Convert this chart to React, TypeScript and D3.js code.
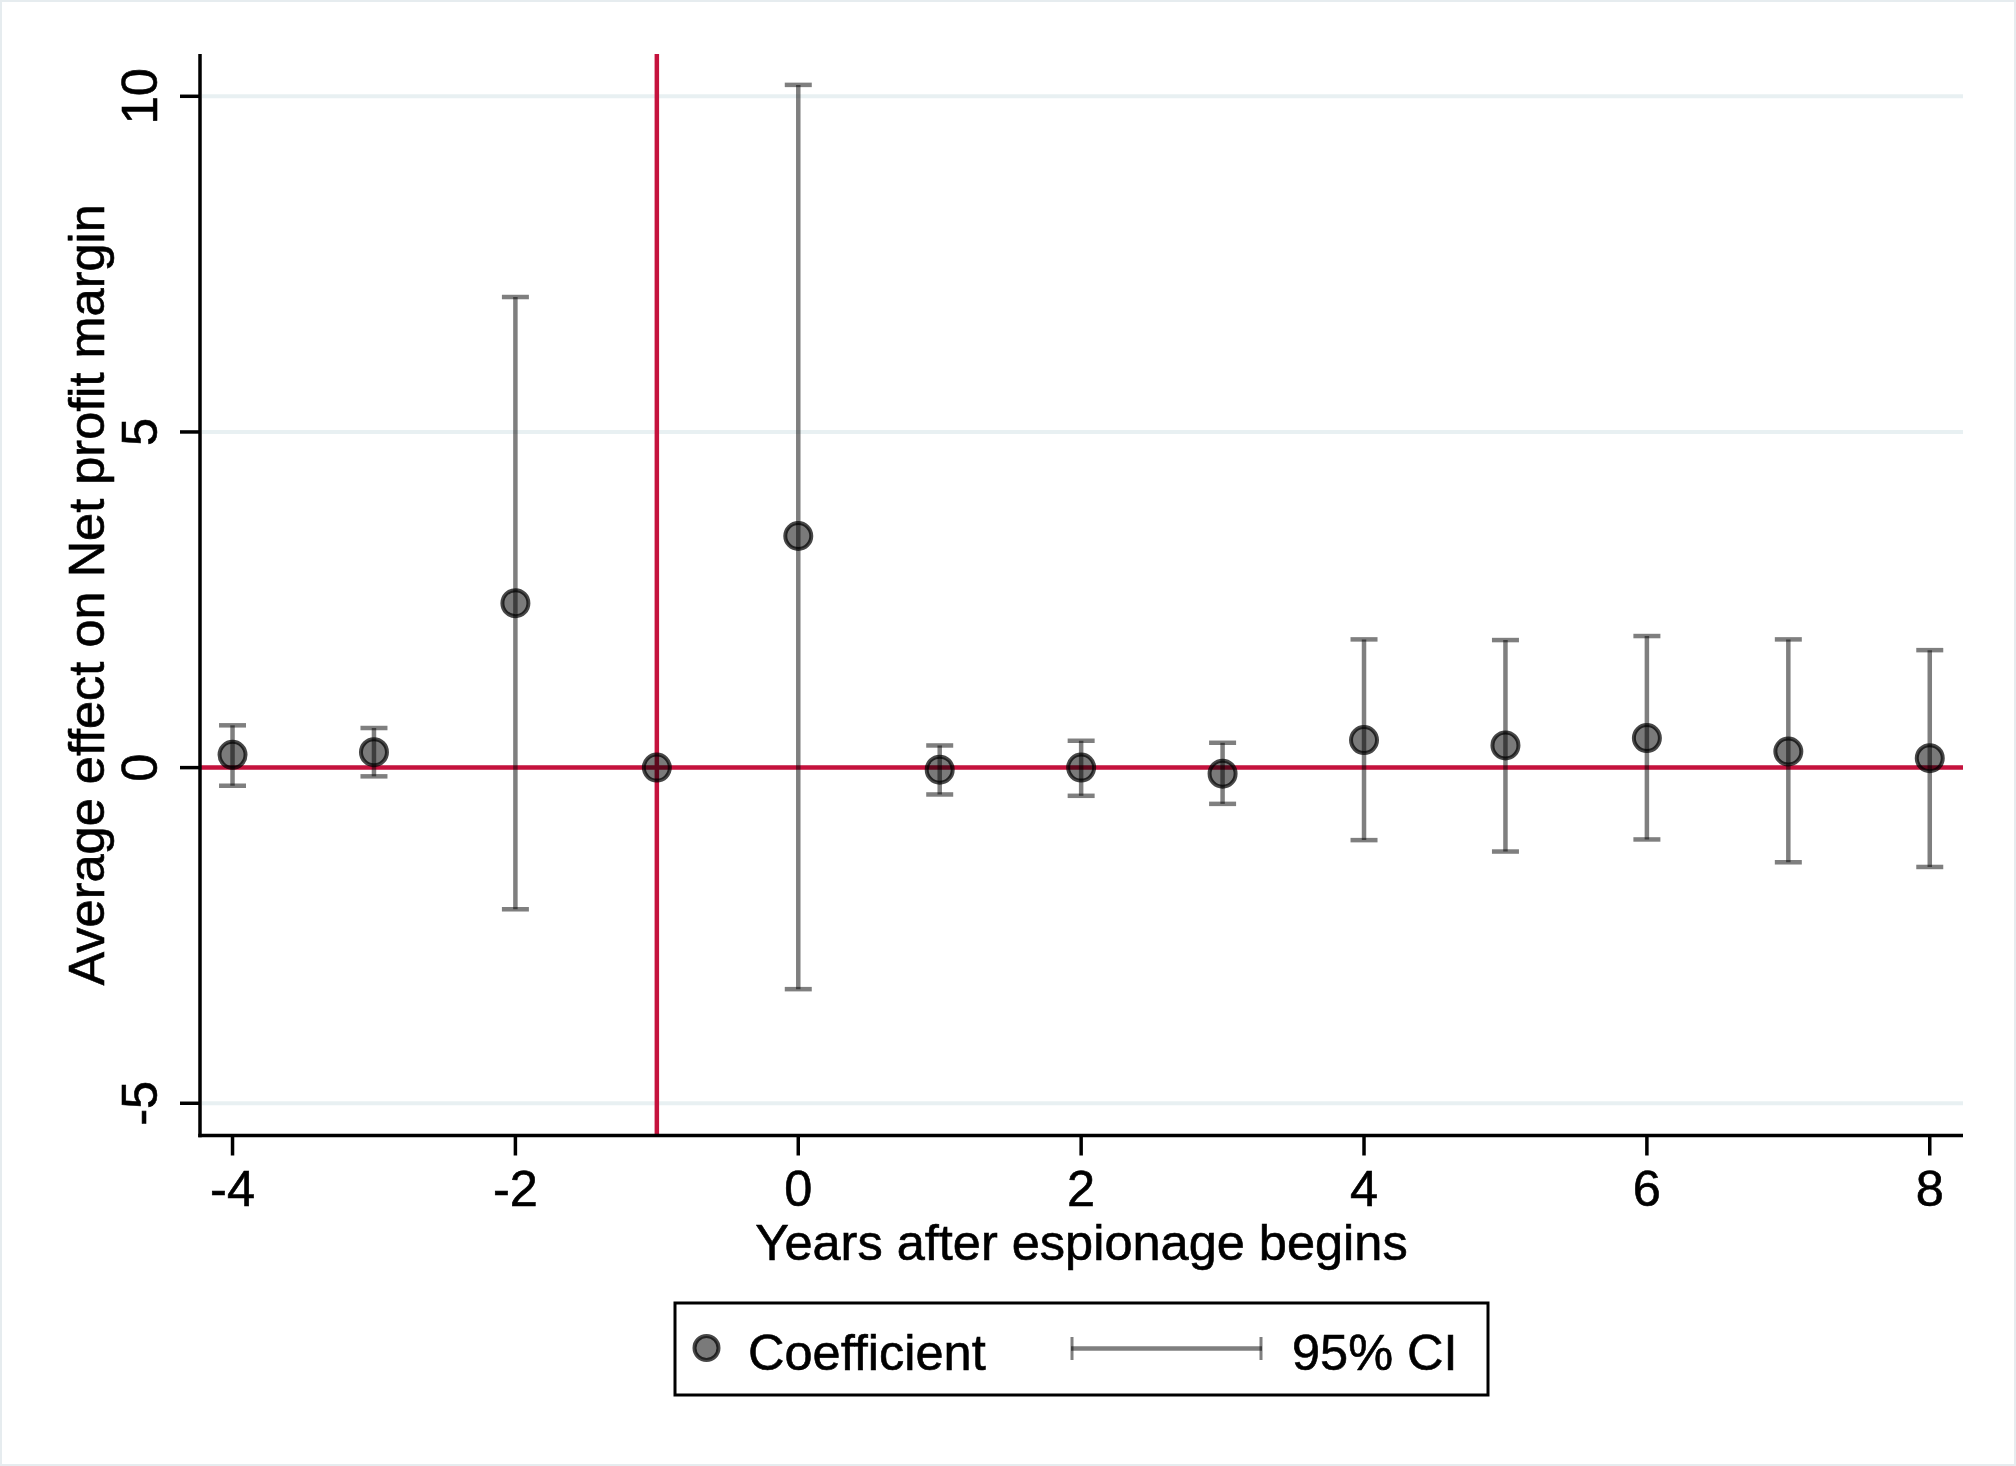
import * as d3 from "d3";

// event-study estimates
const years = [-4, -3, -2, -1, 0, 1, 2, 3, 4, 5, 6, 7, 8];
const coefficients = [0.19, 0.23, 2.45, 0, 3.45, -0.03, 0.0, -0.09, 0.41, 0.33, 0.44, 0.24, 0.14];
const ciLower = [-0.27, -0.13, -2.11, 0, -3.3, -0.4, -0.42, -0.54, -1.08, -1.25, -1.07, -1.41, -1.48];
const ciUpper = [0.63, 0.59, 7.01, 0, 10.17, 0.33, 0.4, 0.37, 1.91, 1.9, 1.96, 1.91, 1.75];
const hasCI = [true, true, true, false, true, true, true, true, true, true, true, true, true];

const xTicks = [-4, -2, 0, 2, 4, 6, 8];
const yTicks = [-5, 0, 5, 10];
const eventYear = -1;

const W = 2016;
const H = 1466;
const FONT = "'Liberation Sans', Arial, Helvetica, sans-serif";
const RED = "#c5123d";

export default function App() {
  const x = d3.scaleLinear().domain([-4.23, 8.235]).range([200, 1963]);
  const y = d3.scaleLinear().domain([-5.48, 10.63]).range([1135.5, 54]);
  const [x0, x1] = x.range();
  const [yBottom, yTop] = y.range();
  const capHalf = 13.5;

  const points = years.map((yr, i) => ({
    yr,
    b: coefficients[i],
    lo: ciLower[i],
    hi: ciUpper[i],
    ci: hasCI[i],
  }));

  const textProps = { fontFamily: FONT, fontSize: 50.5, fill: "#000", stroke: "#000", strokeWidth: 0.6 };

  return (
    <div style={{ position: "absolute", left: 0, top: 0 }}>
      <svg width={W} height={H} viewBox={`0 0 ${W} ${H}`} style={{ display: "block" }}>
        <rect x={0} y={0} width={W} height={H} fill="#fff" />
        <rect x={1} y={1} width={W - 2} height={H - 2} fill="none" stroke="#e6ecef" strokeWidth={2} />

        {/* gridlines */}
        {yTicks.map((t) => (
          <line key={`g${t}`} x1={x0 + 2} x2={x1} y1={y(t)} y2={y(t)} stroke="#e8f0f2" strokeWidth={4} />
        ))}

        {/* reference lines */}
        <line x1={x(eventYear)} x2={x(eventYear)} y1={yTop} y2={yBottom} stroke={RED} strokeWidth={4.5} />
        <line x1={x0} x2={x1} y1={y(0)} y2={y(0)} stroke={RED} strokeWidth={4.5} />

        {/* confidence intervals */}
        {points
          .filter((p) => p.ci)
          .map((p) => (
            <g key={`ci${p.yr}`} stroke="#000" strokeOpacity={0.5} strokeWidth={4.5}>
              <line x1={x(p.yr)} x2={x(p.yr)} y1={y(p.lo)} y2={y(p.hi)} />
              <line x1={x(p.yr) - capHalf} x2={x(p.yr) + capHalf} y1={y(p.hi)} y2={y(p.hi)} />
              <line x1={x(p.yr) - capHalf} x2={x(p.yr) + capHalf} y1={y(p.lo)} y2={y(p.lo)} />
            </g>
          ))}

        {/* coefficients */}
        {points.map((p) => (
          <circle
            key={`pt${p.yr}`}
            cx={x(p.yr)}
            cy={y(p.b)}
            r={13}
            fill="#000"
            fillOpacity={0.52}
            stroke="#000"
            strokeOpacity={0.72}
            strokeWidth={4}
          />
        ))}

        {/* axes */}
        <line x1={x0} x2={x0} y1={yTop} y2={yBottom + 1.75} stroke="#000" strokeWidth={3.5} />
        <line x1={x0 - 1.75} x2={x1} y1={yBottom} y2={yBottom} stroke="#000" strokeWidth={3.5} />

        {yTicks.map((t) => (
          <g key={`yt${t}`}>
            <line x1={x0 - 20} x2={x0} y1={y(t)} y2={y(t)} stroke="#000" strokeWidth={3.5} />
            <text transform={`translate(157,${y(t)}) rotate(-90)`} textAnchor="middle" {...textProps}>
              {t}
            </text>
          </g>
        ))}

        {xTicks.map((t) => (
          <g key={`xt${t}`}>
            <line x1={x(t)} x2={x(t)} y1={yBottom} y2={yBottom + 20} stroke="#000" strokeWidth={3.5} />
            <text x={x(t)} y={1206} textAnchor="middle" {...textProps}>
              {t}
            </text>
          </g>
        ))}

        <text
          transform={`translate(104,${(yTop + yBottom) / 2}) rotate(-90)`}
          textAnchor="middle"
          {...textProps}
        >
          Average effect on Net profit margin
        </text>
        <text x={(x0 + x1) / 2} y={1260} textAnchor="middle" {...textProps}>
          Years after espionage begins
        </text>

        {/* legend */}
        <rect x={675} y={1303} width={813} height={92} fill="#fff" stroke="#000" strokeWidth={3} />
        <circle
          cx={706.5}
          cy={1348}
          r={12}
          fill="#000"
          fillOpacity={0.52}
          stroke="#000"
          strokeOpacity={0.72}
          strokeWidth={4}
        />
        <text x={748} y={1370} {...textProps}>
          Coefficient
        </text>
        <g stroke="#000" strokeOpacity={0.5}>
          <line x1={1071} x2={1262} y1={1348.5} y2={1348.5} strokeWidth={4.5} />
          <line x1={1072} x2={1072} y1={1337} y2={1360} strokeWidth={3} />
          <line x1={1261} x2={1261} y1={1337} y2={1360} strokeWidth={3} />
        </g>
        <text x={1292} y={1370} {...textProps}>
          95% CI
        </text>
      </svg>
    </div>
  );
}
